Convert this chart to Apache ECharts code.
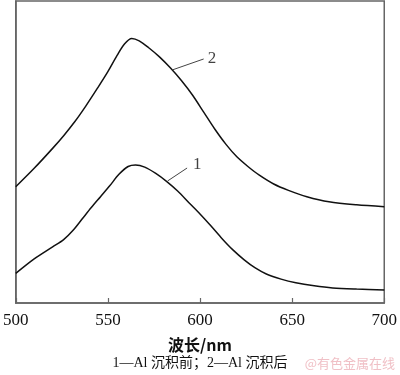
<!DOCTYPE html>
<html>
<head>
<meta charset="utf-8">
<script src="https://cdn.jsdelivr.net/npm/echarts@6/dist/echarts.min.js"></script>
<style>html,body{margin:0;padding:0;background:#fff}#c{width:400px;height:375px}</style>
</head>
<body>
<div id="c"></div>
<script>
// wavelength (nm) and relative intensity (arbitrary units)
var curve1X = [500, 510, 520, 526, 531, 536, 541, 546, 551, 556, 561, 565, 570, 576, 582, 588, 594, 600, 606, 612, 618, 624, 630, 636, 644, 652, 662, 672, 685, 700];
var curve1Y = [9.8, 14.6, 18.6, 21.0, 24.0, 27.8, 31.6, 35.2, 38.8, 42.6, 45.2, 45.7, 45.0, 42.9, 40.2, 37.0, 33.2, 29.5, 25.5, 21.3, 17.5, 14.3, 11.6, 9.6, 7.9, 6.7, 5.7, 5.0, 4.6, 4.3];
var curve2X = [500, 510, 520, 526, 532, 538, 544, 550, 555, 559, 563, 567, 572, 578, 584, 590, 596, 602, 608, 614, 620, 626, 632, 640, 648, 658, 670, 685, 700];
var curve2Y = [38.5, 44.6, 51.2, 55.4, 60.0, 65.2, 70.8, 76.6, 82.0, 85.8, 87.6, 86.8, 84.6, 81.5, 77.8, 73.6, 68.8, 63.2, 57.6, 52.6, 48.4, 45.2, 42.4, 39.4, 37.3, 35.2, 33.5, 32.5, 31.9];
var xTicks = [500, 550, 600, 650, 700];
var curveNames = ['1', '2'];
// leader line annotations (data coordinates)
var leader1 = [[582.4, 40.4], [593, 44.7]];
var leader2 = [[585.1, 77.2], [602, 80.8]];
var label1Pos = [598.5, 45.7];
var label2Pos = [606.5, 81.1];
var xName = '波长/nm';
var caption = '1—Al 沉积前；2—Al 沉积后';
var watermark = '@有色金属在线';

function zip(xs, ys) { return xs.map(function (x, i) { return [x, ys[i]]; }); }

var chart = echarts.init(document.getElementById('c'), null, {renderer: 'canvas'});
var serif = '"Liberation Serif", "Times New Roman", serif';
var lineStyle = {color: '#111', width: 1.5};
chart.setOption({
  animation: false,
  grid: {left: 13, right: 11, top: 1, bottom: 72, show: true, borderColor: '#666', borderWidth: 1.5, backgroundColor: 'transparent'},
  xAxis: {
    type: 'value', min: 500, max: 700, interval: 50,
    name: xName, nameLocation: 'middle', nameGap: 34,
    nameTextStyle: {fontFamily: '"Noto Sans CJK SC", sans-serif', fontSize: 16, color: '#111', fontWeight: 'bold'},
    axisLine: {show: true, lineStyle: {color: '#666', width: 1.5}},
    axisTick: {show: true, inside: true, length: 5, lineStyle: {color: '#666', width: 1.2}},
    axisLabel: {fontFamily: serif, fontSize: 17, color: '#111', margin: 9,
      formatter: function (v) { return xTicks.indexOf(v) >= 0 ? String(v) : ''; }},
    splitLine: {show: false}
  },
  yAxis: {
    type: 'value', min: 0, max: 100,
    axisLine: {show: true, lineStyle: {color: '#666', width: 1.5}},
    axisTick: {show: false}, axisLabel: {show: false}, splitLine: {show: false}
  },
  series: [
    {type: 'line', name: curveNames[0], data: zip(curve1X, curve1Y), smooth: 0.3, showSymbol: false, lineStyle: lineStyle,
      markLine: {silent: true, symbol: 'none', label: {show: false}, lineStyle: {color: '#444', width: 1, type: 'solid'},
        data: [[{coord: leader1[0]}, {coord: leader1[1]}]]}},
    {type: 'line', name: curveNames[1], data: zip(curve2X, curve2Y), smooth: 0.3, showSymbol: false, lineStyle: lineStyle,
      markLine: {silent: true, symbol: 'none', label: {show: false}, lineStyle: {color: '#444', width: 1, type: 'solid'},
        data: [[{coord: leader2[0]}, {coord: leader2[1]}]]}},
    {type: 'scatter', symbolSize: 0, silent: true,
      data: [{value: label1Pos, name: curveNames[0]}, {value: label2Pos, name: curveNames[1]}],
      label: {show: true, position: 'inside', formatter: '{b}', fontFamily: serif, fontSize: 17, color: '#111'}}
  ],
  graphic: [
    {type: 'text', left: 'center', top: 356, style: {text: caption, font: '14px "Liberation Serif", "Noto Sans CJK SC", serif', fill: '#111'}},
    {type: 'text', right: 5, top: 357, style: {text: watermark, font: '13px "Noto Sans CJK SC", sans-serif', fill: '#f0c0c6'}}
  ]
});
</script>
</body>
</html>
